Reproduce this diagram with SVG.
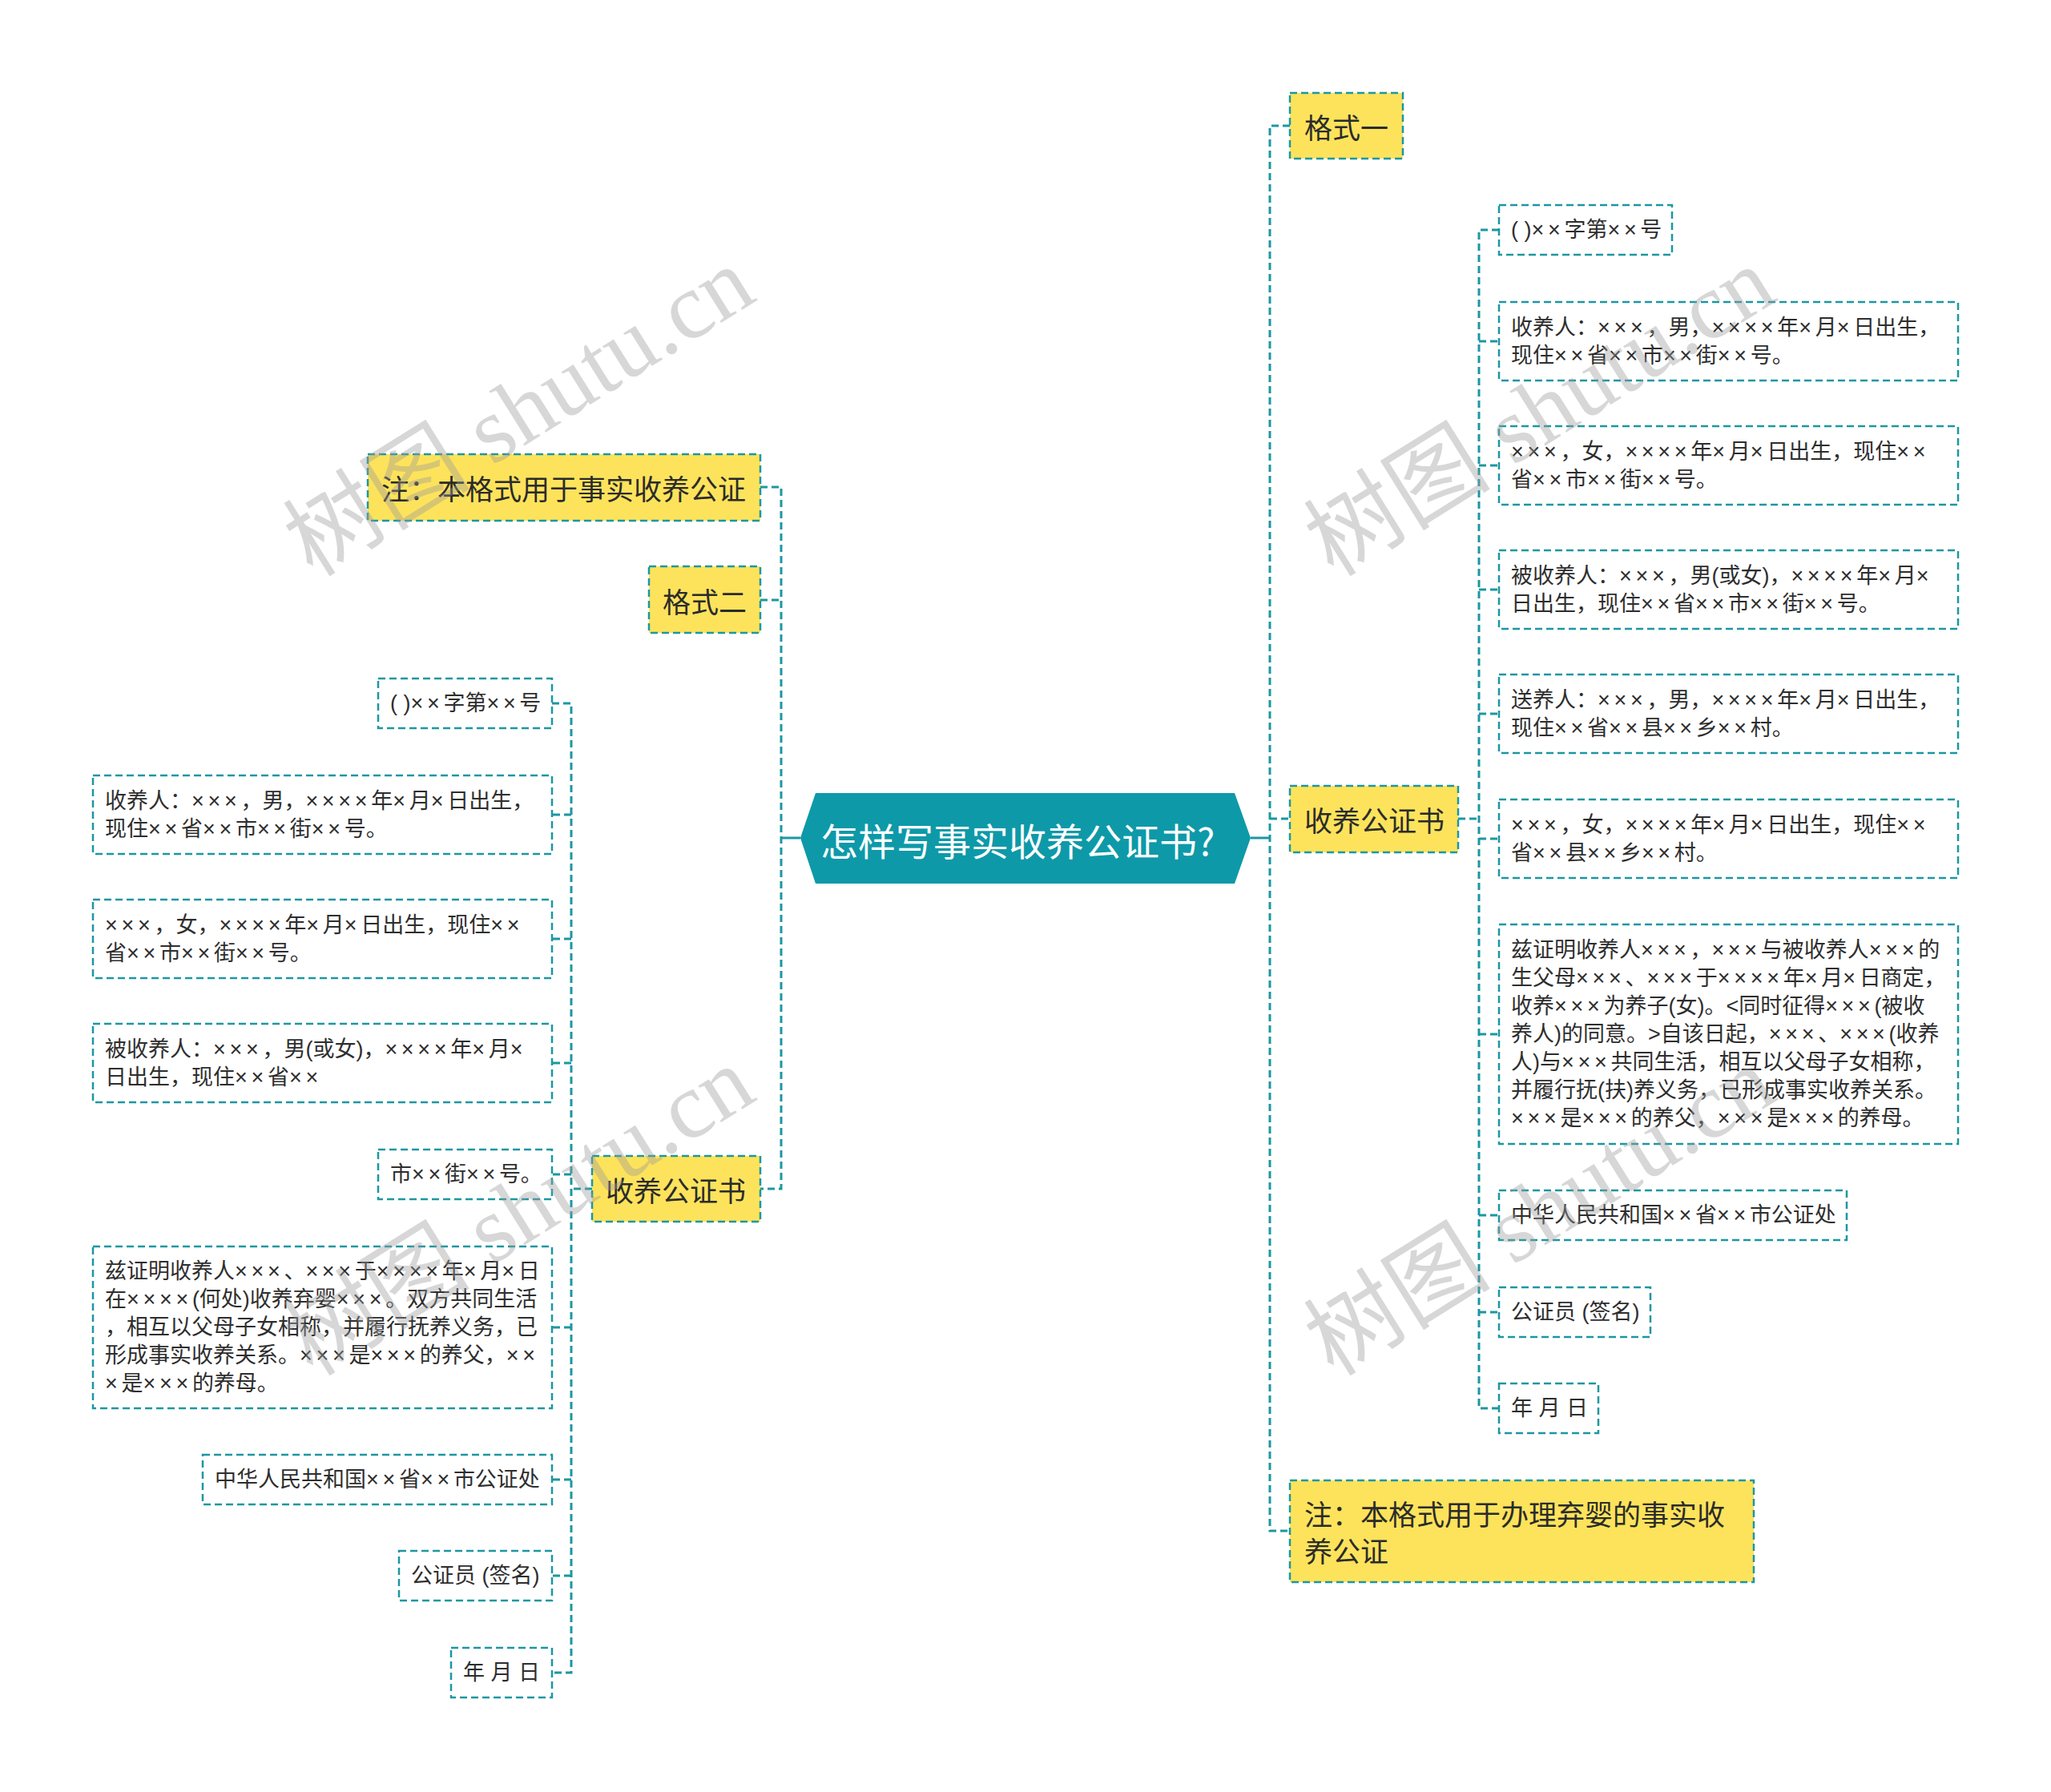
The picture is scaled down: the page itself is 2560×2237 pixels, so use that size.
<svg xmlns="http://www.w3.org/2000/svg" width="2560" height="2237" viewBox="0 0 2560 2237">
<style>
.bg{fill:#ffffff}
.conn{fill:none;stroke:#1c97a2;stroke-width:3;stroke-dasharray:9 5}
.solid{fill:none;stroke:#1c97a2;stroke-width:3}
.yel{fill:#fde35b;stroke:#1c97a2;stroke-width:2.5;stroke-dasharray:9 5}
.box{fill:#ffffff;stroke:#1c97a2;stroke-width:2.5;stroke-dasharray:9 5}
.ytxt{font-family:"Noto Sans CJK SC","Noto Sans CJK TC",sans-serif;font-size:35px;fill:#2b2b2b;dominant-baseline:central}
.ctxt{font-family:"Liberation Sans","Noto Sans CJK SC",sans-serif;font-size:27px;fill:#2e2e2e;dominant-baseline:central}
.x{letter-spacing:4.7px}
.root{font-family:"Noto Sans CJK SC",sans-serif;font-size:47px;fill:#ffffff;dominant-baseline:central}
.wm{font-family:"Liberation Serif","Noto Sans CJK SC",serif;font-size:117px;fill:#9a9a9a;fill-opacity:0.4;text-anchor:middle;dominant-baseline:central}
</style>
<rect class="bg" x="0" y="0" width="2560" height="2237"/>

<g id="connectors">
  <line class="solid" x1="975" y1="1046" x2="999" y2="1046"/>
  <line class="solid" x1="1561" y1="1046" x2="1585" y2="1046"/>
  <path class="conn" d="M949,608 H975 V1484 H949"/>
  <line class="conn" x1="949" y1="749" x2="975" y2="749"/>
  <path class="conn" d="M1610,157 H1585 V1911 H1610"/>
  <line class="conn" x1="1585" y1="1022" x2="1610" y2="1022"/>
  <line class="conn" x1="1820" y1="1022" x2="1846" y2="1022"/>
  <path class="conn" d="M1871,287 H1846 V1758 H1871"/>
  <line class="conn" x1="1846" y1="426" x2="1871" y2="426"/>
  <line class="conn" x1="1846" y1="581" x2="1871" y2="581"/>
  <line class="conn" x1="1846" y1="736" x2="1871" y2="736"/>
  <line class="conn" x1="1846" y1="891" x2="1871" y2="891"/>
  <line class="conn" x1="1846" y1="1047" x2="1871" y2="1047"/>
  <line class="conn" x1="1846" y1="1291" x2="1871" y2="1291"/>
  <line class="conn" x1="1846" y1="1517" x2="1871" y2="1517"/>
  <line class="conn" x1="1846" y1="1638" x2="1871" y2="1638"/>
  <line class="conn" x1="739" y1="1484" x2="713" y2="1484"/>
  <path class="conn" d="M689,878 H713 V2088 H689"/>
  <line class="conn" x1="713" y1="1017" x2="689" y2="1017"/>
  <line class="conn" x1="713" y1="1172" x2="689" y2="1172"/>
  <line class="conn" x1="713" y1="1327" x2="689" y2="1327"/>
  <line class="conn" x1="713" y1="1466" x2="689" y2="1466"/>
  <line class="conn" x1="713" y1="1657" x2="689" y2="1657"/>
  <line class="conn" x1="713" y1="1847" x2="689" y2="1847"/>
  <line class="conn" x1="713" y1="1967" x2="689" y2="1967"/>
</g>

<g id="root">
  <polygon points="999,1046 1018,990 1541,990 1561,1046 1541,1103 1018,1103" fill="#0e99a8"/>
  <text class="root" x="1024" y="1047">怎样写事实收养公证书?</text>
</g>

<g id="geshi1">
  <rect class="yel" x="1610" y="116" width="141" height="82"/>
  <text class="ytxt" x="1628" y="157">格式一</text>
</g>
<g id="shouyang-r">
  <rect class="yel" x="1610" y="981" width="210" height="83"/>
  <text class="ytxt" x="1628" y="1022">收养公证书</text>
</g>
<g id="note-r">
  <rect class="yel" x="1610" y="1848" width="579" height="127"/>
  <text class="ytxt" x="1628" y="1888">注：本格式用于办理弃婴的事实收</text>
  <text class="ytxt" x="1628" y="1934">养公证</text>
</g>

<g id="r1">
  <rect class="box" x="1871" y="256" width="216" height="62"/>
  <text class="ctxt" x="1886" y="287">( )<tspan class="x">××</tspan>字第<tspan class="x">××</tspan>号</text>
</g>
<g id="r2">
  <rect class="box" x="1871" y="377" width="573" height="98"/>
  <text class="ctxt" x="1886" y="408.5">收养人：<tspan class="x">×××</tspan>，男，<tspan class="x">××××</tspan>年<tspan class="x">×</tspan>月<tspan class="x">×</tspan>日出生，</text>
  <text class="ctxt" x="1886" y="443.5">现住<tspan class="x">××</tspan>省<tspan class="x">××</tspan>市<tspan class="x">××</tspan>街<tspan class="x">××</tspan>号。</text>
</g>
<g id="r3">
  <rect class="box" x="1871" y="532" width="573" height="98"/>
  <text class="ctxt" x="1886" y="563.5"><tspan class="x">×××</tspan>，女，<tspan class="x">××××</tspan>年<tspan class="x">×</tspan>月<tspan class="x">×</tspan>日出生，现住<tspan class="x">××</tspan></text>
  <text class="ctxt" x="1886" y="598.5">省<tspan class="x">××</tspan>市<tspan class="x">××</tspan>街<tspan class="x">××</tspan>号。</text>
</g>
<g id="r4">
  <rect class="box" x="1871" y="687" width="573" height="98"/>
  <text class="ctxt" x="1886" y="718.5">被收养人：<tspan class="x">×××</tspan>，男(或女)，<tspan class="x">××××</tspan>年<tspan class="x">×</tspan>月<tspan class="x">×</tspan></text>
  <text class="ctxt" x="1886" y="753.5">日出生，现住<tspan class="x">××</tspan>省<tspan class="x">××</tspan>市<tspan class="x">××</tspan>街<tspan class="x">××</tspan>号。</text>
</g>
<g id="r5">
  <rect class="box" x="1871" y="842" width="573" height="98"/>
  <text class="ctxt" x="1886" y="873.5">送养人：<tspan class="x">×××</tspan>，男，<tspan class="x">××××</tspan>年<tspan class="x">×</tspan>月<tspan class="x">×</tspan>日出生，</text>
  <text class="ctxt" x="1886" y="908.5">现住<tspan class="x">××</tspan>省<tspan class="x">××</tspan>县<tspan class="x">××</tspan>乡<tspan class="x">××</tspan>村。</text>
</g>
<g id="r6">
  <rect class="box" x="1871" y="998" width="573" height="98"/>
  <text class="ctxt" x="1886" y="1029.5"><tspan class="x">×××</tspan>，女，<tspan class="x">××××</tspan>年<tspan class="x">×</tspan>月<tspan class="x">×</tspan>日出生，现住<tspan class="x">××</tspan></text>
  <text class="ctxt" x="1886" y="1064.5">省<tspan class="x">××</tspan>县<tspan class="x">××</tspan>乡<tspan class="x">××</tspan>村。</text>
</g>
<g id="r7">
  <rect class="box" x="1871" y="1154" width="573" height="274"/>
  <text class="ctxt" x="1886" y="1186">兹证明收养人<tspan class="x">×××</tspan>，<tspan class="x">×××</tspan>与被收养人<tspan class="x">×××</tspan>的</text>
  <text class="ctxt" x="1886" y="1221">生父母<tspan class="x">×××</tspan>、<tspan class="x">×××</tspan>于<tspan class="x">××××</tspan>年<tspan class="x">×</tspan>月<tspan class="x">×</tspan>日商定，</text>
  <text class="ctxt" x="1886" y="1256">收养<tspan class="x">×××</tspan>为养子(女)。&lt;同时征得<tspan class="x">×××</tspan>(被收</text>
  <text class="ctxt" x="1886" y="1291">养人)的同意。&gt;自该日起，<tspan class="x">×××</tspan>、<tspan class="x">×××</tspan>(收养</text>
  <text class="ctxt" x="1886" y="1326">人)与<tspan class="x">×××</tspan>共同生活，相互以父母子女相称，</text>
  <text class="ctxt" x="1886" y="1361">并履行抚(扶)养义务，已形成事实收养关系。</text>
  <text class="ctxt" x="1886" y="1396"><tspan class="x">×××</tspan>是<tspan class="x">×××</tspan>的养父，<tspan class="x">×××</tspan>是<tspan class="x">×××</tspan>的养母。</text>
</g>
<g id="r8">
  <rect class="box" x="1871" y="1486" width="434" height="62"/>
  <text class="ctxt" x="1886" y="1517">中华人民共和国<tspan class="x">××</tspan>省<tspan class="x">××</tspan>市公证处</text>
</g>
<g id="r9">
  <rect class="box" x="1871" y="1607" width="189" height="62"/>
  <text class="ctxt" x="1886" y="1638">公证员 (签名)</text>
</g>
<g id="r10">
  <rect class="box" x="1871" y="1727" width="124" height="62"/>
  <text class="ctxt" x="1886" y="1758">年 月 日</text>
</g>

<g id="note-l">
  <rect class="yel" x="459" y="567" width="490" height="83"/>
  <text class="ytxt" x="476" y="608">注：本格式用于事实收养公证</text>
</g>
<g id="geshi2">
  <rect class="yel" x="810" y="707" width="139" height="83"/>
  <text class="ytxt" x="827" y="749">格式二</text>
</g>
<g id="shouyang-l">
  <rect class="yel" x="739" y="1443" width="210" height="82"/>
  <text class="ytxt" x="756" y="1484">收养公证书</text>
</g>

<g id="l1">
  <rect class="box" x="472" y="847" width="217" height="62"/>
  <text class="ctxt" x="487" y="878">( )<tspan class="x">××</tspan>字第<tspan class="x">××</tspan>号</text>
</g>
<g id="l2">
  <rect class="box" x="116" y="968" width="573" height="98"/>
  <text class="ctxt" x="131" y="999.5">收养人：<tspan class="x">×××</tspan>，男，<tspan class="x">××××</tspan>年<tspan class="x">×</tspan>月<tspan class="x">×</tspan>日出生，</text>
  <text class="ctxt" x="131" y="1034.5">现住<tspan class="x">××</tspan>省<tspan class="x">××</tspan>市<tspan class="x">××</tspan>街<tspan class="x">××</tspan>号。</text>
</g>
<g id="l3">
  <rect class="box" x="116" y="1123" width="573" height="98"/>
  <text class="ctxt" x="131" y="1154.5"><tspan class="x">×××</tspan>，女，<tspan class="x">××××</tspan>年<tspan class="x">×</tspan>月<tspan class="x">×</tspan>日出生，现住<tspan class="x">××</tspan></text>
  <text class="ctxt" x="131" y="1189.5">省<tspan class="x">××</tspan>市<tspan class="x">××</tspan>街<tspan class="x">××</tspan>号。</text>
</g>
<g id="l4">
  <rect class="box" x="116" y="1278" width="573" height="98"/>
  <text class="ctxt" x="131" y="1309.5">被收养人：<tspan class="x">×××</tspan>，男(或女)，<tspan class="x">××××</tspan>年<tspan class="x">×</tspan>月<tspan class="x">×</tspan></text>
  <text class="ctxt" x="131" y="1344.5">日出生，现住<tspan class="x">××</tspan>省<tspan class="x">××</tspan></text>
</g>
<g id="l5">
  <rect class="box" x="472" y="1435" width="217" height="62"/>
  <text class="ctxt" x="487" y="1466">市<tspan class="x">××</tspan>街<tspan class="x">××</tspan>号。</text>
</g>
<g id="l6">
  <rect class="box" x="116" y="1556" width="573" height="202"/>
  <text class="ctxt" x="131" y="1587">兹证明收养人<tspan class="x">×××</tspan>、<tspan class="x">×××</tspan>于<tspan class="x">××××</tspan>年<tspan class="x">×</tspan>月<tspan class="x">×</tspan>日</text>
  <text class="ctxt" x="131" y="1622">在<tspan class="x">××××</tspan>(何处)收养弃婴<tspan class="x">×××</tspan>。双方共同生活</text>
  <text class="ctxt" x="131" y="1657">，相互以父母子女相称，并履行抚养义务，已</text>
  <text class="ctxt" x="131" y="1692">形成事实收养关系。<tspan class="x">×××</tspan>是<tspan class="x">×××</tspan>的养父，<tspan class="x">××</tspan></text>
  <text class="ctxt" x="131" y="1727"><tspan class="x">×</tspan>是<tspan class="x">×××</tspan>的养母。</text>
</g>
<g id="l7">
  <rect class="box" x="253" y="1816" width="436" height="62"/>
  <text class="ctxt" x="268" y="1847">中华人民共和国<tspan class="x">××</tspan>省<tspan class="x">××</tspan>市公证处</text>
</g>
<g id="l8">
  <rect class="box" x="498" y="1936" width="191" height="62"/>
  <text class="ctxt" x="513" y="1967">公证员 (签名)</text>
</g>
<g id="l9">
  <rect class="box" x="563" y="2057" width="126" height="62"/>
  <text class="ctxt" x="578" y="2088">年 月 日</text>
</g>

<g id="watermark">
  <text class="wm" transform="translate(648,514) rotate(-32)">树图 shutu.cn</text>
  <text class="wm" transform="translate(1922,514) rotate(-32)">树图 shutu.cn</text>
  <text class="wm" transform="translate(648,1512) rotate(-32)">树图 shutu.cn</text>
  <text class="wm" transform="translate(1922,1512) rotate(-32)">树图 shutu.cn</text>
</g>
</svg>
